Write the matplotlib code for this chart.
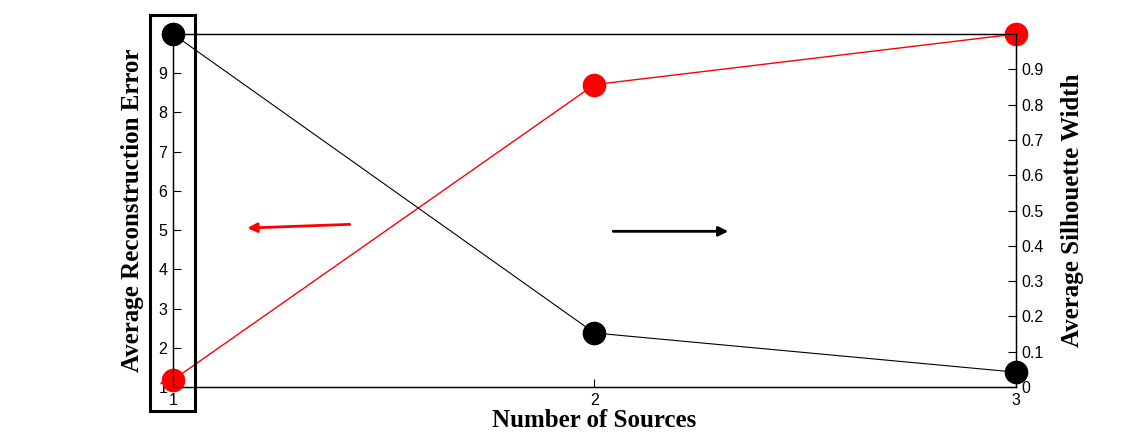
import matplotlib.pyplot as plt
from matplotlib.patches import Rectangle

# data
sources = [1, 2, 3]
recon_error = [1.18, 8.71, 10.0]      # red, left axis
silhouette = [1.0, 0.153, 0.042]      # black, right axis
left_ticks = [1, 2, 3, 4, 5, 6, 7, 8, 9]
right_ticks = [0, 0.1, 0.2, 0.3, 0.4, 0.5, 0.6, 0.7, 0.8, 0.9]
right_labels = ['0', '0.1', '0.2', '0.3', '0.4', '0.5', '0.6', '0.7', '0.8', '0.9']

tick_font = 'Liberation Sans'
label_font = 'Liberation Serif'

fig = plt.figure(figsize=(11.23, 4.36), dpi=100)
ax = fig.add_axes([0.154, 0.1124, 0.7507, 0.8096])
ax2 = ax.twinx()

ax.plot(sources, recon_error, color='red', lw=1, marker='o', markersize=16,
        clip_on=False, zorder=3)
ax2.plot(sources, silhouette, color='black', lw=0.8, marker='o', markersize=16,
         clip_on=False, zorder=3)

ax.set_xlim(1, 3)
ax.set_ylim(1, 10)
ax2.set_ylim(0, 1)
ax.set_xticks(sources)
ax.set_yticks(left_ticks)
ax2.set_yticks(right_ticks)
ax2.set_yticklabels(right_labels)

for a in (ax, ax2):
    a.tick_params(direction='in', length=6, width=0.8, labelsize=11.5, pad=4)
    for lab in a.get_xticklabels() + a.get_yticklabels():
        lab.set_fontfamily(tick_font)
    for s in a.spines.values():
        s.set_linewidth(0.9)

ax.set_xlabel('Number of Sources', fontsize=18, fontweight='bold',
              fontfamily=label_font, labelpad=1)
ax.set_ylabel('Average Reconstruction Error', fontsize=18, fontweight='bold',
              fontfamily=label_font, labelpad=10)
ax2.set_ylabel('Average Silhouette Width', fontsize=18, fontweight='bold',
               fontfamily=label_font, labelpad=12)

# arrows showing which axis each line belongs to
ax.annotate('', xy=(0.085, 0.45), xytext=(0.213, 0.461), xycoords='axes fraction',
            arrowprops=dict(arrowstyle='-|>', color='red', lw=2, mutation_scale=14))
ax.annotate('', xy=(0.662, 0.441), xytext=(0.519, 0.441), xycoords='axes fraction',
            arrowprops=dict(arrowstyle='-|>', color='black', lw=2, mutation_scale=14))

# box around the left tick column
fig.patches.append(Rectangle((0.1336, 0.0573), 0.040, 0.908, transform=fig.transFigure,
                             fill=False, edgecolor='black', lw=2.2))

fig.savefig('out.png', dpi=100)
